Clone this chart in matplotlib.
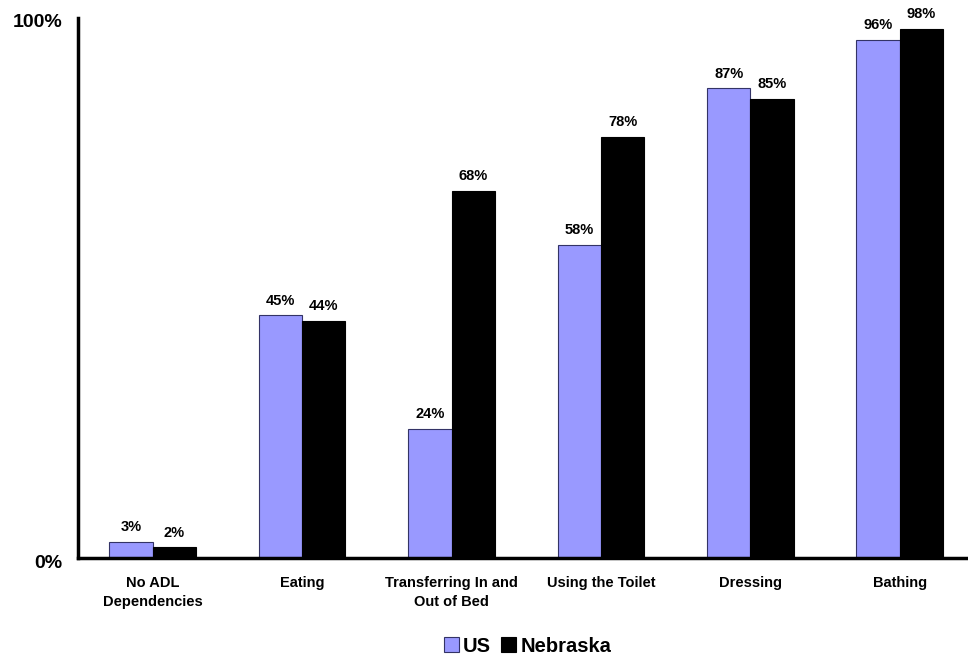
import matplotlib
matplotlib.use("Agg")
import matplotlib.pyplot as plt
import matplotlib.transforms as mtransforms
import numpy as np

plt.rcParams['font.family'] = ['Liberation Sans', 'DejaVu Sans']
plt.rcParams['font.weight'] = 'bold'

categories = ["No ADL\nDependencies", "Eating", "Transferring In and\nOut of Bed",
              "Using the Toilet", "Dressing", "Bathing"]
us_values = [3, 45, 24, 58, 87, 96]
nebraska_values = [2, 44, 68, 78, 85, 98]
series_names = ["US", "Nebraska"]
y_tick_values = [0, 100]
y_tick_labels = ["0%", "100%"]

fig = plt.figure(figsize=(9.68, 6.56), dpi=100)
ax = fig.add_axes([0.0806, 0.149, 0.926, 0.8236])

x = np.arange(len(categories))
w = 0.29
b1 = ax.bar(x - w / 2, us_values, w, color="#9999FF", edgecolor="#333366", linewidth=0.8,
            label=series_names[0])
b2 = ax.bar(x + w / 2, nebraska_values, w, color="black", edgecolor="black", linewidth=0.8,
            label=series_names[1])

for bars, vals in ((b1, us_values), (b2, nebraska_values)):
    for rect, v in zip(bars, vals):
        ax.text(rect.get_x() + rect.get_width() / 2, v + 1.4, f"{v}%",
                ha="center", va="bottom", fontsize=10.5, fontweight="bold")

ax.set_xlim(-0.5, len(categories) - 0.5)
ax.set_ylim(0, 100)
ax.set_yticks(y_tick_values)
ax.set_yticklabels(y_tick_labels, fontsize=14, fontweight="bold")
ax.set_xticks(x)
ax.set_xticklabels(categories, fontsize=10.5, fontweight="bold", linespacing=1.4)
ax.tick_params(axis="both", length=0)
ax.tick_params(axis="y", pad=11.5)
ax.tick_params(axis="x", pad=13)

# nudge the y tick labels slightly downward
shift = mtransforms.ScaledTranslation(0, -3 / 100, fig.dpi_scale_trans)
for lbl in ax.get_yticklabels():
    lbl.set_transform(lbl.get_transform() + shift)

for s in ("top", "right"):
    ax.spines[s].set_visible(False)
for s in ("left", "bottom"):
    ax.spines[s].set_linewidth(2.5)

leg = fig.legend(handles=[b1, b2], labels=series_names, loc="center",
                 bbox_to_anchor=(0.545, 0.015), ncol=2, frameon=False,
                 prop={"size": 14.5, "weight": "bold"}, handlelength=0.75, handleheight=0.75,
                 handletextpad=0.2, columnspacing=0.5, borderpad=0)

fig.savefig("out.png", dpi=100)
